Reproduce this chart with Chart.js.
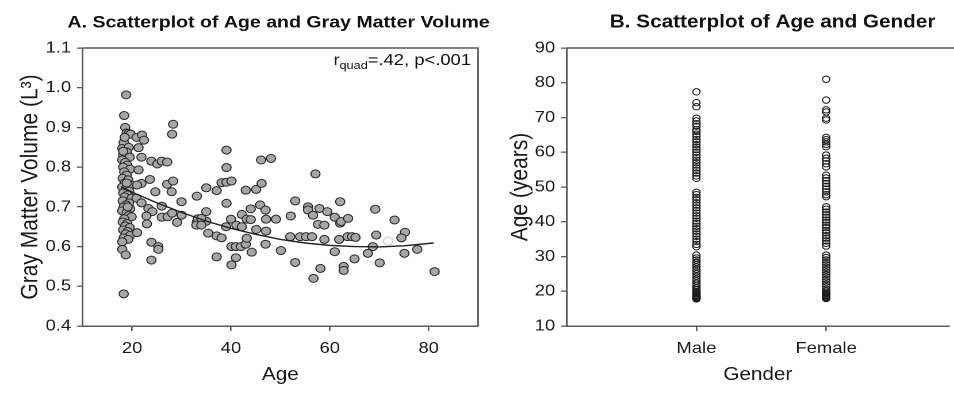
<!DOCTYPE html>
<html><head><meta charset="utf-8">
<script src="https://cdn.jsdelivr.net/npm/chart.js@4.4.0/dist/chart.umd.min.js"></script>
<style>
html,body{margin:0;padding:0;background:#fff;overflow:hidden;width:954px;height:393px}
.wrap{position:absolute;top:0;height:393px;transform-origin:0 0;transform:scaleX(1.15)}
#wa{left:0;width:440px}
#wb{left:490px;width:404px}
</style></head><body>
<div class="wrap" id="wa"><canvas id="ca"></canvas></div>
<div class="wrap" id="wb"><canvas id="cb"></canvas></div>
<script>
// ---------- Panel A data ----------
const ageA = [18.8,18.4,18.6,18.9,19.3,19.7,18.3,18.0,19.3,18.9,18.2,19.5,18.0,18.6,19.0,18.2,19.6,18.4,18.9,18.1,19.2,18.5,19.8,18.0,18.7,19.4,18.2,19.0,18.5,19.9,20.9,18.1,19.4,18.8,18.3,19.6,18.0,18.9,19.3,19.9,18.4,18.1,19.0,18.6,19.5,18.2,19.1,18.7,19.6,18.3,19.2,18.0,18.0,18.7,18.3,18.9,18.5,18.2,19.1,
20.9,22.0,22.4,28.3,28.1,21.3,21.9,23.9,25.1,26.0,27.1,21.3,23.6,21.9,21.0,27.1,28.3,24.7,28.0,33.1,30.0,21.9,23.3,24.1,26.0,22.9,23.0,26.0,27.2,28.1,29.1,30.0,33.1,33.3,21.0,23.9,25.3,25.3,23.9,
39.1,39.1,46.1,48.1,57.1,35.0,37.1,38.1,39.1,40.1,43.0,45.1,46.2,39.1,35.0,35.0,35.4,37.1,38.1,39.0,40.0,41.1,42.2,42.2,43.2,44.0,44.0,45.1,45.9,47.0,47.1,47.1,49.1,47.0,40.1,41.0,42.0,43.0,43.2,44.2,50.1,37.1,41.0,40.1,53.0,52.1,55.6,55.6,56.6,57.9,57.6,52.0,54.0,55.2,56.4,58.9,53.0,58.1,56.7,34.0,33.0,34.0,
62.1,69.2,73.1,59.5,58.9,61.0,62.1,62.3,63.7,75.2,74.5,61.9,63.6,64.5,65.2,69.4,68.7,61.0,67.7,77.7,75.1,65.0,70.1,62.8,62.8,81.2];
const volA = [.982,.930,.900,.886,.885,.883,.862,.847,.850,.838,.830,.825,.818,.812,.805,.800,.795,.788,.780,.772,.768,.760,.755,.750,.745,.740,.735,.730,.725,.722,.722,.715,.710,.705,.700,.695,.690,.685,.678,.675,.670,.662,.658,.652,.648,.642,.638,.632,.628,.622,.618,.612,.593,.579,.481,.760,.875,.840,.700,
.875,.881,.868,.908,.883,.849,.825,.815,.808,.815,.813,.793,.769,.759,.755,.757,.765,.738,.738,.727,.713,.710,.696,.688,.702,.677,.657,.674,.675,.684,.661,.679,.661,.670,.635,.611,.600,.593,.566,
.843,.799,.818,.822,.783,.748,.741,.761,.762,.765,.742,.744,.759,.709,.688,.664,.634,.627,.622,.650,.669,.654,.681,.650,.669,.695,.668,.643,.705,.692,.669,.639,.669,.606,.600,.600,.600,.606,.621,.586,.590,.574,.572,.554,.715,.677,.700,.692,.679,.696,.656,.625,.625,.625,.625,.618,.560,.545,.520,.671,.654,.654,
.713,.694,.667,.688,.654,.674,.659,.663,.671,.636,.622,.618,.625,.625,.623,.629,.600,.587,.583,.593,.583,.569,.559,.550,.540,.537];
const ageWhite = [71.8];
const volWhite = [.614];
const curveAge = [18,20,25,30,35,40,45,50,55,60,65,70,75,81];
const curveVol = [.749,.737,.710,.686,.664,.646,.631,.618,.609,.603,.600,.599,.602,.609];
const xTicksA = [20,40,60,80];
const yTicksA = [0.4,0.5,0.6,0.7,0.8,0.9,1.0,1.1];

// ---------- Panel B data ----------
const genders = ['Male','Female'];
const maleAge = [77.4,74.3,73.1,69.8,69,68.2,67.5,66.5,66,65.2,64.5,63.7,63,62.2,61.5,60.8,60,59.2,58.5,57.7,57,56.3,55.5,54.8,54,53.2,52.5,48.5,47.8,47,46.3,45.5,44.8,44,43.2,42.5,41.7,41,40.2,39.5,38.7,38,37.3,36.5,35.8,35,34.3,33.5,32.8,30.4,29.6,29,28.3,27.7,27,26.3,25.6,25,24.3,23.6,23,22.3,21.7,21,20.5,20,19.6,19.2,18.9,18.6,18.3,18,17.8,18.1,18.4,18.7,19.4,19.9];
const femaleAge = [81,75,72.2,71.6,69.8,69.3,64.3,63.6,63,62.3,61.6,59.2,58.3,57.5,56.7,55.8,53.4,52.6,51.8,51,50.2,49.4,48.6,47.8,47.2,44.3,43.6,42.8,42,41.3,40.5,39.8,39,38.3,37.5,36.8,36,35.3,34.5,33.8,33,30.4,29.7,29,28.3,27.6,26.9,26.2,25.5,24.8,24.1,23.4,22.7,22,21.3,20.6,20,19.5,19,18.6,18.3,18,17.9,18.2,18.8,19.3];
const xTicksB = [1,2];
const yTicksB = [10,20,30,40,50,60,70,80,90];

// ---------- common ----------
const FONT = '"Liberation Sans", Arial, sans-serif';
const TXT = '#1a1a1a';
const AX = '#5a5a5a';
Chart.defaults.font.family = FONT;
Chart.defaults.color = TXT;

function pts(xs, ys){ return xs.map((x,i)=>({x:x, y:ys[i]})); }

function decor(opts){
  return {
    id:'decor'+opts.key,
    afterDraw(chart){
      const ctx = chart.ctx, a = chart.chartArea;
      ctx.save();
      ctx.strokeStyle = AX; ctx.lineWidth = 1.5;
      ctx.beginPath();
      ctx.moveTo(a.left, a.top); ctx.lineTo(opts.boxRight ? a.right : chart.width, a.top);
      if (opts.boxRight){ ctx.lineTo(a.right, a.bottom); }
      ctx.stroke();
      ctx.fillStyle = '#111';
      ctx.font = 'bold ' + opts.titleSize + 'px ' + FONT;
      ctx.textAlign = 'center'; ctx.textBaseline = 'alphabetic';
      ctx.fillText(opts.title, opts.titleX, 27.5);
      if (opts.annot){
        const main1 = 'r', sub = 'quad', main2 = '=.42, p<.001';
        ctx.font = '16px ' + FONT;
        const w1 = ctx.measureText(main1).width, w3 = ctx.measureText(main2).width;
        ctx.font = '11px ' + FONT;
        const w2 = ctx.measureText(sub).width;
        let x = opts.annotRight - (w1+w2+w3);
        ctx.textAlign = 'left';
        ctx.font = '16px ' + FONT; ctx.fillText(main1, x, 65); x += w1;
        ctx.font = '11px ' + FONT; ctx.fillText(sub, x, 69); x += w2;
        ctx.font = '16px ' + FONT; ctx.fillText(main2, x, 65);
      }
      ctx.restore();
    }
  };
}

function axisCommon(){
  return {
    grid:{display:true, drawOnChartArea:false, drawTicks:true, tickLength:5, color:AX, lineWidth:1.3},
    border:{display:true, color:AX, width:1.5},
  };
}

// ---------- Chart A ----------
new Chart(document.getElementById('ca'), {
  type:'scatter',
  data:{datasets:[
    {data:pts(curveAge, curveVol), showLine:true, borderColor:'#222', borderWidth:1.4, pointRadius:0, fill:false, order:0},
    {data:pts(ageA, volA), backgroundColor:'#a6a6a6', borderColor:'#2a2a2a', borderWidth:1, pointRadius:4, order:1},
    {data:pts(ageWhite, volWhite), backgroundColor:'#ffffff', borderColor:'#cfcfcf', borderWidth:1, pointRadius:4, order:2}
  ]},
  options:{
    responsive:true, maintainAspectRatio:false, animation:false, devicePixelRatio:2,
    events:[],
    layout:{padding:{top:48, right:24.3, left:0, bottom:0}},
    plugins:{legend:{display:false}, tooltip:{enabled:false}},
    scales:{
      x:Object.assign(axisCommon(), {
        type:'linear', min:10, max:90,
        afterBuildTicks:s=>{ s.ticks = xTicksA.map(v=>({value:v})); },
        afterFit:s=>{ s.height = 67; },
        ticks:{font:{size:16}, color:TXT, padding:8, maxRotation:0},
        title:{display:true, text:'Age', font:{size:18}, color:TXT, padding:{top:0, bottom:7}}
      }),
      y:Object.assign(axisCommon(), {
        type:'linear', min:0.4, max:1.1,
        afterBuildTicks:s=>{ s.ticks = yTicksA.map(v=>({value:v})); },
        afterFit:s=>{ s.width = 71.9; },
        ticks:{font:{size:16}, color:TXT, padding:5, callback:v=>Number(v).toFixed(1)},
        title:{display:true, text:'Gray Matter Volume (L³)', font:{size:21}, color:TXT, padding:{top:14, bottom:0}}
      })
    }
  },
  plugins:[decor({key:'A', boxRight:true, title:'A. Scatterplot of Age and Gray Matter Volume', titleSize:17, titleX:242.2, annot:true, annotRight:409.6})]
});

// ---------- Chart B ----------
new Chart(document.getElementById('cb'), {
  type:'scatter',
  data:{datasets:[
    {data:maleAge.map(a=>({x:1, y:a})), backgroundColor:'rgba(255,255,255,0)', borderColor:'#1e1e1e', borderWidth:1, pointRadius:3.2},
    {data:femaleAge.map(a=>({x:2, y:a})), backgroundColor:'rgba(255,255,255,0)', borderColor:'#1e1e1e', borderWidth:1, pointRadius:3.2}
  ]},
  options:{
    responsive:true, maintainAspectRatio:false, animation:false, devicePixelRatio:2,
    events:[],
    layout:{padding:{top:48, right:0, left:0, bottom:0}},
    plugins:{legend:{display:false}, tooltip:{enabled:false}},
    scales:{
      x:Object.assign(axisCommon(), {
        type:'linear', min:0, max:2.946,
        afterBuildTicks:s=>{ s.ticks = xTicksB.map(v=>({value:v})); },
        afterFit:s=>{ s.height = 67; },
        ticks:{font:{size:16}, color:TXT, padding:8, maxRotation:0, callback:v=>genders[v-1]},
        title:{display:true, text:'Gender', font:{size:18}, color:TXT, padding:{top:0, bottom:7}}
      }),
      y:Object.assign(axisCommon(), {
        type:'linear', min:10, max:90,
        afterBuildTicks:s=>{ s.ticks = yTicksB.map(v=>({value:v})); },
        afterFit:s=>{ s.width = 66.7; },
        ticks:{font:{size:16}, color:TXT, padding:5},
        title:{display:true, text:'Age (years)', font:{size:21}, color:TXT, padding:{top:14, bottom:0}}
      })
    }
  },
  plugins:[decor({key:'B', boxRight:false, title:'B. Scatterplot of Age and Gender', titleSize:18, titleX:245.7})]
});
</script>
</body></html>
